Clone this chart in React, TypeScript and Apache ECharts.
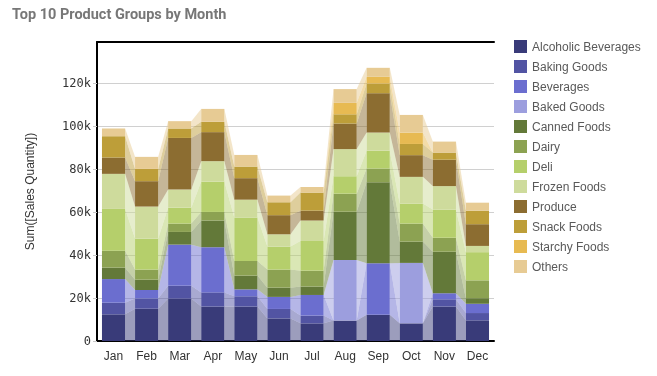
import React, { useEffect, useRef } from "react";
import * as echarts from "echarts";

const months = ["Jan", "Feb", "Mar", "Apr", "May", "Jun", "Jul", "Aug", "Sep", "Oct", "Nov", "Dec"];
const yTicks = [0, 20, 40, 60, 80, 100, 120];

const groupNames = [
  "Alcoholic Beverages",
  "Baking Goods",
  "Beverages",
  "Baked Goods",
  "Canned Foods",
  "Dairy",
  "Deli",
  "Frozen Foods",
  "Produce",
  "Snack Foods",
  "Starchy Foods",
  "Others",
];

const groupColors = [
  "#393b79", "#5254a3", "#6b6ecf", "#9c9ede",
  "#637939", "#8ca252", "#b5cf6b", "#cedb9c",
  "#8c6d31", "#bd9e39", "#e7ba52", "#e7cb94",
];

// values in thousands
const alcoholicBeverages = [12.4, 15.0, 19.7, 16.0, 16.0, 10.5, 8.2, 9.5, 12.2, 8.2, 16.0, 9.6];
const bakingGoods = [5.4, 4.8, 6.0, 6.6, 4.8, 4.4, 3.6, 0, 0, 0, 3.4, 3.4];
const beverages = [11.0, 3.9, 19.1, 21.0, 3.2, 5.6, 9.6, 0, 23.9, 0, 2.8, 4.3];
const bakedGoods = [0, 0, 0, 0, 0, 0, 0, 28.2, 0, 28.1, 0, 0];
const cannedFoods = [5.3, 4.8, 5.9, 12.4, 6.4, 4.3, 3.9, 22.4, 37.7, 9.9, 19.3, 2.6];
const dairy = [7.9, 4.7, 3.9, 4.0, 6.8, 8.4, 7.4, 8.4, 6.4, 8.4, 6.5, 8.3];
const deli = [19.4, 14.4, 7.4, 14.1, 20.2, 10.7, 13.8, 8.1, 8.3, 9.3, 13.1, 13.1];
const frozenFoods = [16.3, 14.9, 8.4, 9.5, 8.3, 5.7, 9.5, 12.6, 8.4, 12.4, 10.9, 2.9];
const produce = [7.6, 11.8, 24.0, 13.5, 10.0, 8.9, 4.6, 11.9, 18.3, 10.1, 12.3, 10.1];
const snackFoods = [9.9, 5.7, 4.4, 4.8, 5.4, 6.0, 8.4, 4.3, 4.5, 5.2, 3.3, 6.3];
const starchyFoods = [0, 0, 0, 0, 0, 0, 0, 5.3, 3.1, 5.3, 0, 0];
const others = [3.6, 5.6, 3.4, 6.0, 5.4, 3.1, 2.6, 6.4, 4.2, 8.2, 5.1, 3.7];

const groupValues = [
  alcoholicBeverages, bakingGoods, beverages, bakedGoods, cannedFoods, dairy,
  deli, frozenFoods, produce, snackFoods, starchyFoods, others,
];

const BAR_RATIO = 0.7;

export default function App() {
  const ref = useRef<HTMLDivElement>(null);

  useEffect(() => {
    if (!ref.current) return;
    const chart = echarts.init(ref.current, undefined, { renderer: "svg" });

    // cumulative bottoms for each group
    const bottoms: number[][] = [];
    const running = months.map(() => 0);
    groupValues.forEach((vals) => {
      bottoms.push(running.slice());
      vals.forEach((v, i) => (running[i] += v));
    });

    const barSeries = groupNames.map((name, g) => ({
      type: "bar",
      name,
      stack: "total",
      barWidth: `${BAR_RATIO * 100}%`,
      z: 3,
      itemStyle: { color: groupColors[g] },
      data: groupValues[g],
    }));

    const linkSeries = groupNames.map((name, g) => ({
      type: "custom",
      name: name + " link",
      z: 1,
      silent: true,
      encode: { x: 0, y: 1 },
      data: months.slice(0, months.length - 1).map((_, i) => [i, 0]),
      renderItem: (_params: any, api: any) => {
        const i = api.value(0) as number;
        const bw = api.size([1, 0])[0] * BAR_RATIO;
        const b0 = bottoms[g][i];
        const t0 = b0 + groupValues[g][i];
        const b1 = bottoms[g][i + 1];
        const t1 = b1 + groupValues[g][i + 1];
        const p0t = api.coord([i, t0]);
        const p0b = api.coord([i, b0]);
        const p1t = api.coord([i + 1, t1]);
        const p1b = api.coord([i + 1, b1]);
        const x0 = p0t[0] + bw / 2;
        const x1 = p1t[0] - bw / 2;
        return {
          type: "polygon",
          shape: { points: [[x0, p0t[1]], [x1, p1t[1]], [x1, p1b[1]], [x0, p0b[1]]] },
          style: { fill: groupColors[g], opacity: 0.5 },
        };
      },
    }));

    chart.setOption({
      animation: false,
      title: {
        text: "Top 10 Product Groups by Month",
        left: 7,
        top: 2,
        textStyle: { fontFamily: "Roboto", fontWeight: "bold", fontSize: 14.5, color: "#777777" },
      },
      legend: {
        data: groupNames,
        orient: "vertical",
        left: 509,
        top: 35,
        icon: "rect",
        itemWidth: 13,
        itemHeight: 13,
        itemGap: 7,
        textStyle: { fontFamily: "Liberation Sans", fontSize: 12, color: "#595959", padding: [0, 0, 0, 0] },
        selectedMode: false,
      },
      grid: { left: 97, right: 163, top: 42, bottom: 35 },
      xAxis: [
        {
          type: "category",
          data: months,
          axisLine: { lineStyle: { color: "#000", width: 2 } },
          axisTick: { alignWithLabel: true, length: 5, lineStyle: { color: "#c8c8c8" } },
          axisLabel: { fontFamily: "Liberation Sans", fontSize: 12, color: "#333", margin: 9 },
        },
        {
          type: "category",
          data: months,
          position: "top",
          axisLine: { lineStyle: { color: "#000", width: 2 } },
          axisTick: { show: false },
          axisLabel: { show: false },
        },
      ],
      yAxis: {
        type: "value",
        min: 0,
        max: 139,
        interval: 20,
        name: "Sum([Sales Quantity])",
        nameLocation: "middle",
        nameGap: 61,
        nameTextStyle: { fontFamily: "Liberation Sans", fontSize: 12, color: "#333" },
        axisLine: { show: true, lineStyle: { color: "#000", width: 2 } },
        axisTick: { show: true, length: 4, lineStyle: { color: "#c8c8c8" } },
        splitLine: { show: true, showMaxLine: false, lineStyle: { color: "#d0d0d0" } },
        axisLabel: {
          showMaxLabel: false,
          margin: 6,
          fontFamily: "DejaVu Sans Mono",
          fontSize: 12,
          color: "#333",
          formatter: (v: number) => (yTicks.includes(v) ? (v === 0 ? "0" : `${v}k`) : ""),
        },
      },
      series: [...barSeries, ...linkSeries],
    });

    return () => chart.dispose();
  }, []);

  return <div ref={ref} style={{ position: "fixed", left: 0, top: 0, width: 657, height: 376 }} />;
}
